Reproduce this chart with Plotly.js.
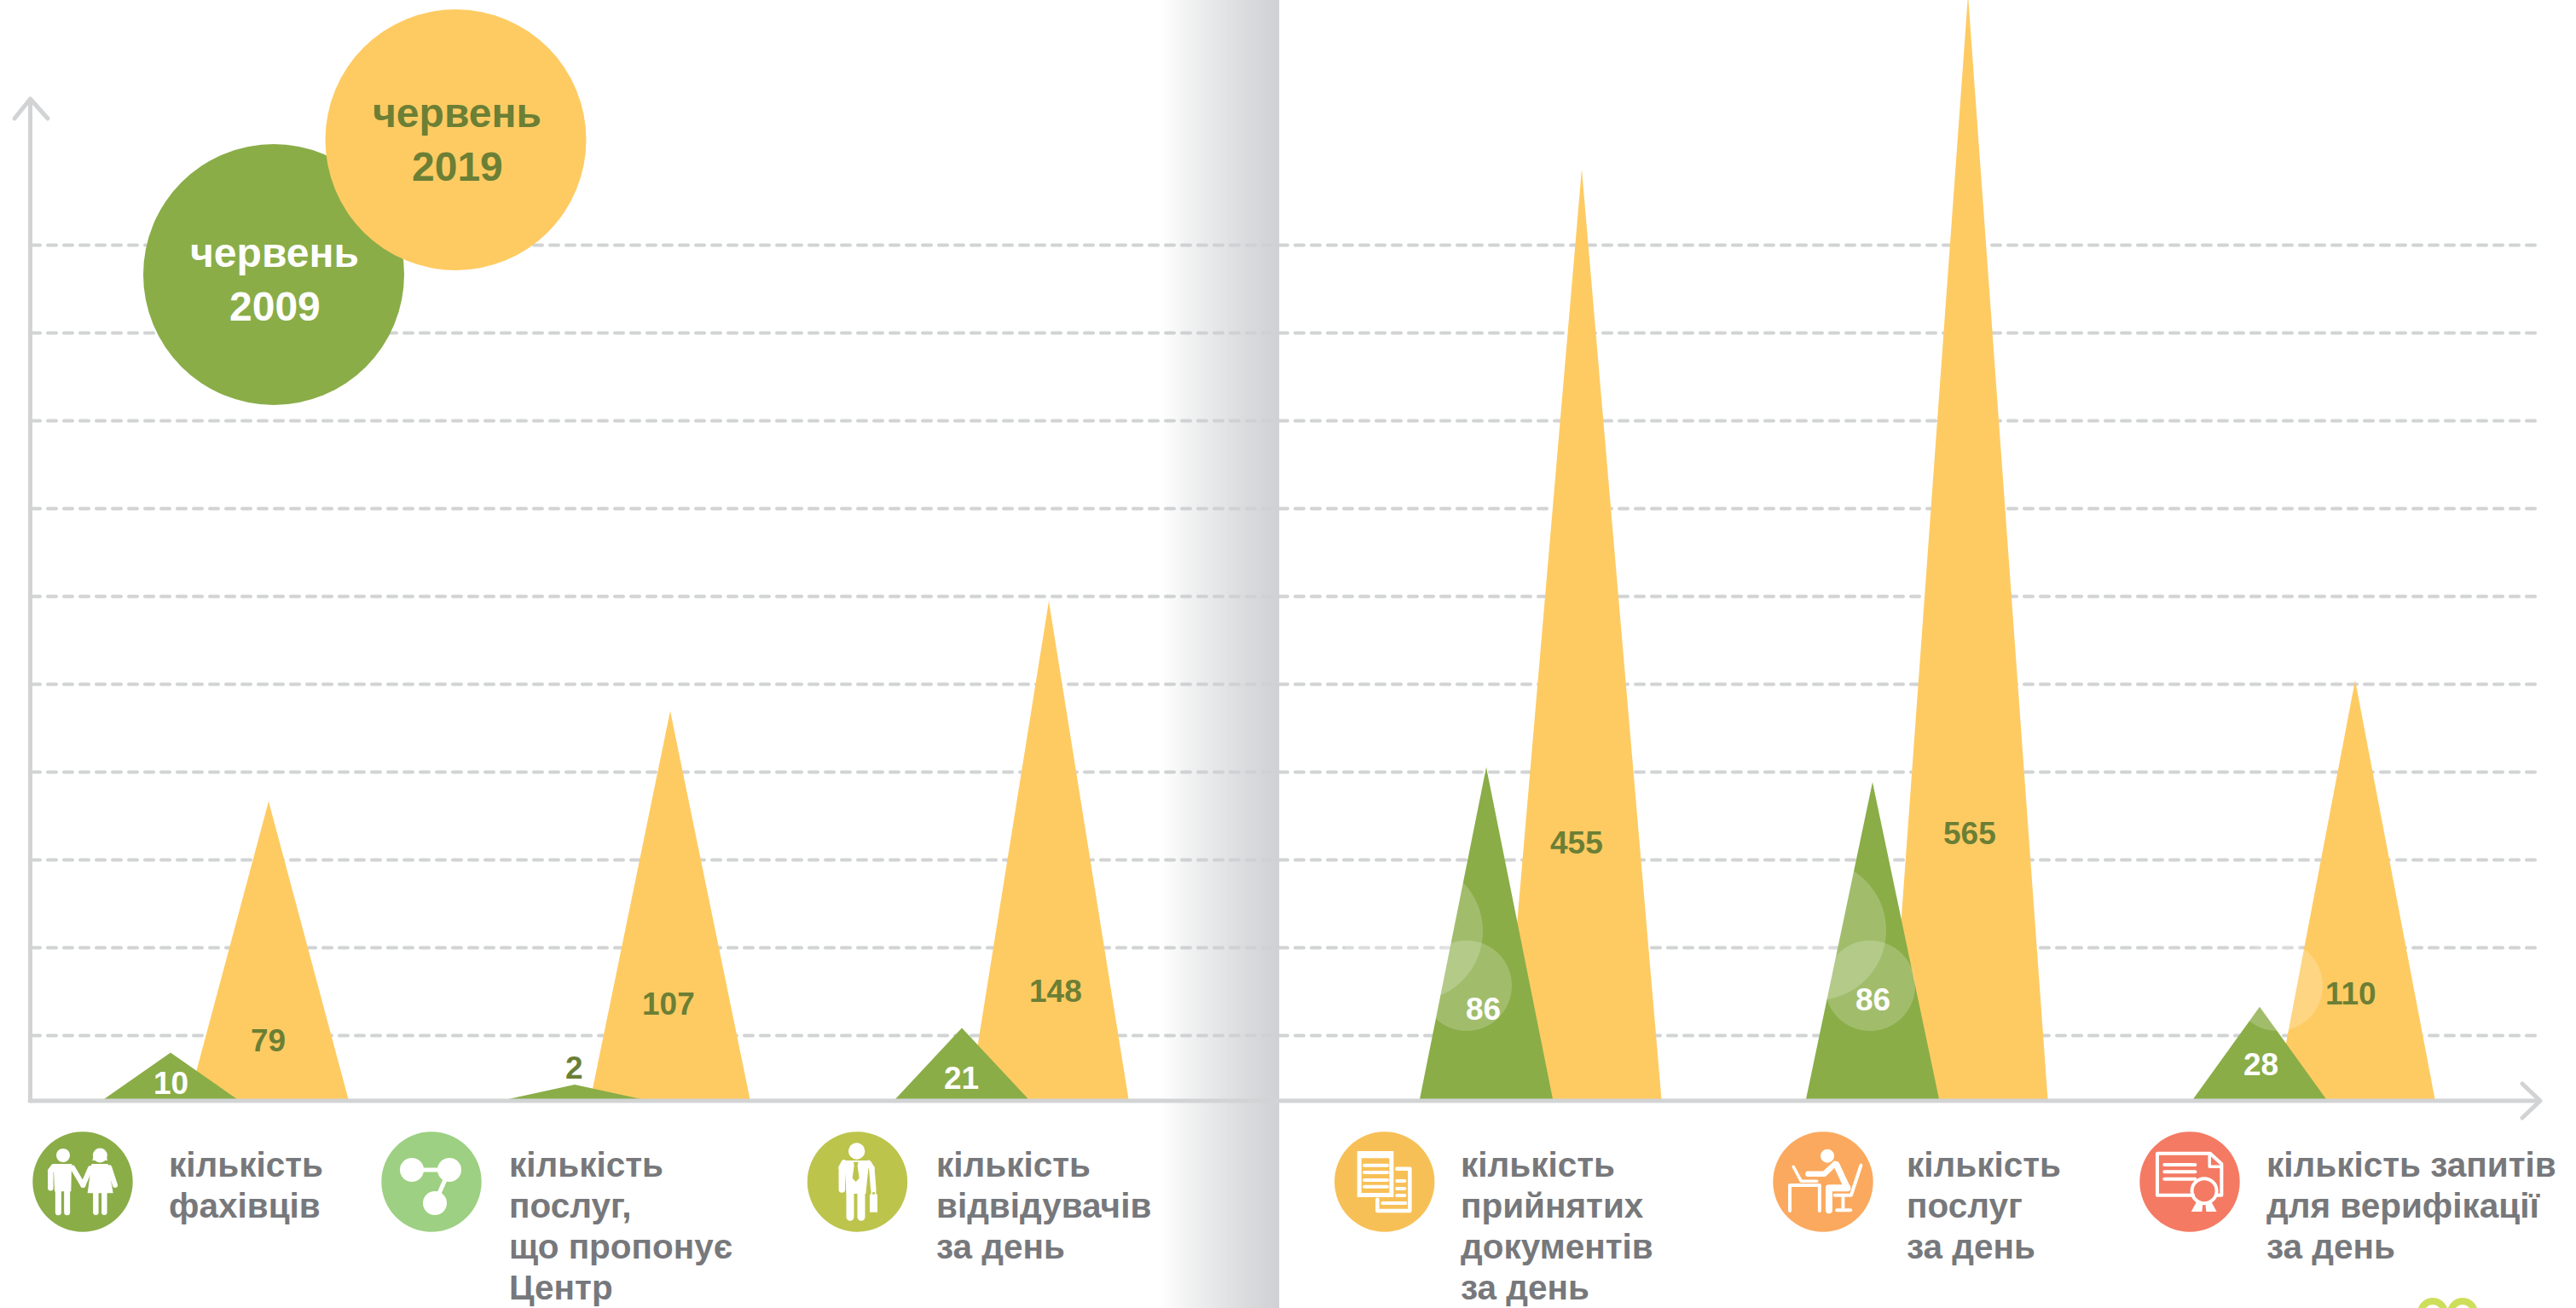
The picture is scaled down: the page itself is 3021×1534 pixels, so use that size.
<!DOCTYPE html>
<html>
<head>
<meta charset="utf-8">
<script src="https://cdn.plot.ly/plotly-3.0.1.min.js"></script>
<style>
html,body{margin:0;padding:0;background:#fff;overflow:hidden}
#chart{width:3021px;height:1534px}
.shapelayer path{stroke-linecap:round;stroke-linejoin:round}
.gridlayer path{stroke-linecap:round;shape-rendering:auto!important}
</style>
</head>
<body>
<div id="chart"></div>
<script>
// ---- data ----
const categories = [
  ["кількість","фахівців"],
  ["кількість","послуг,","що пропонує","Центр"],
  ["кількість","відвідувачів","за день"],
  ["кількість","прийнятих","документів","за день"],
  ["кількість","послуг","за день"],
  ["кількість запитів","для верифікації","за день"]
];
const seriesNames = ["червень 2009","червень 2019"];
const values2009 = [10, 2, 21, 86, 86, 28];
const values2019 = [79, 107, 148, 455, 565, 110];
// the pictured peaks do not follow the printed numbers linearly: heights in grid steps
const peaks2009 = [0.53, 0.165, 0.81, 3.78, 3.61, 1.05];
const peaks2019 = [3.39, 4.42, 5.67, 10.59, 12.57, 4.77];

// ---- geometry & style ----
const W = 3021, H = 1534, ML = 37, MR = 45, BASE = 1289, STEP = 103;
const PW = W - ML - MR;
const centers2009 = [200, 674, 1128, 1743, 2196, 2650];
const centers2019 = [315, 786, 1230, 1855, 2308, 2762];
const halfBase2009 = 78, halfBase2019 = 93.5;
const GREEN = '#8aad48', YELLOW = '#fecb63', DARK = '#6b7f35', GREY = '#77787b', LINE = '#d1d3d4';
const FONT = 'Liberation Sans, Arial, sans-serif';
const px = x => (x - ML) / PW;
const py = y => 1 - y / BASE;
const toY = y => (BASE - y) / STEP;

function tri(center, half, h, color, name) {
  return {type:'scatter', mode:'lines', x:[center-half, center, center+half], y:[0, h, 0],
    fill:'toself', fillcolor:color, line:{width:0, color:color}, hoverinfo:'skip', name:name, showlegend:false};
}
const traces = [];
values2019.forEach((v,i)=>traces.push(tri(centers2019[i], halfBase2019, peaks2019[i], YELLOW, seriesNames[1])));
values2009.forEach((v,i)=>traces.push(tri(centers2009[i], halfBase2009, peaks2009[i], GREEN, seriesNames[0])));

// ---- shape helpers (page pixels -> paper) ----
const shapes = [];
function poly(pts, o) {
  o = o || {};
  const d = pts.map((p,i)=>(i?'L':'M')+px(p[0]).toFixed(6)+','+py(p[1]).toFixed(6)).join('')+(o.fill?'Z':'');
  shapes.push({type:'path', xref:'paper', yref:'paper', layer:'above', path:d,
    fillcolor:o.fill||'rgba(0,0,0,0)', line:{width:o.w===undefined?0:o.w, color:o.color||'rgba(0,0,0,0)'}});
}
function disc(cx, cy, r, fill, o) {
  o = o || {};
  shapes.push({type:'circle', xref:'paper', yref:'paper', layer:'above',
    x0:px(cx-r), x1:px(cx+r), y0:py(cy+r), y1:py(cy-r), fillcolor:fill||'rgba(0,0,0,0)',
    opacity:o.opacity===undefined?1:o.opacity, line:{width:o.w||0, color:o.color||'rgba(0,0,0,0)'}});
}
function rect(x0,y0,x1,y1,fill){
  shapes.push({type:'rect', xref:'paper', yref:'paper', layer:'above',
    x0:px(x0), x1:px(x1), y0:py(y1), y1:py(y0), fillcolor:fill, line:{width:0}});
}

// page-fold shading
for (let x = 1360; x < 1500; x++) {
  const t = (x - 1360) / 140;
  rect(x, 0, x + 1.2, H, `rgba(207,208,211,${t.toFixed(3)})`);
}
// axes with arrows
poly([[35.5,117],[35.5,1291]],{w:5,color:LINE});
poly([[35,1291],[2978,1291]],{w:5,color:LINE});
poly([[17,139],[35.5,116],[56,139]],{w:5,color:LINE});
poly([[2958,1271],[2979,1291],[2958,1311]],{w:5,color:LINE});

// translucent discs
const WHITE_A = 'rgba(255,255,255,0.2)';
disc(1720,1156,53,WHITE_A); disc(1657,1092,82,WHITE_A);
disc(2193,1156,53,WHITE_A); disc(2130,1091,82,WHITE_A);
disc(2671,1156,53,WHITE_A);

// series key
disc(321,322,153,GREEN);
disc(534.5,164,153,YELLOW);

// icons
function local(ox,oy,sx,sy){ return p => [ox+p[0]/sx, oy+p[1]/sy]; }
// 1 people
(function(){
  const c='#8aad48', f=local(20,1310,3,3), W_='#fff';
  disc(97,1386,58.7,c);
  const st=(pts,w)=>poly(pts.map(f),{w:w,color:W_}), fl=pts=>poly(pts.map(f),{fill:W_});
  disc(...f([162,135]),8,W_);
  fl([[128,165],[192,165],[190,262],[132,262]]);
  st([[118,190],[118,250]],6.5); st([[128,175],[118,190]],6.5);
  st([[195,178],[232,240]],6); st([[145,260],[145,335]],7); st([[176,260],[176,335]],7);
  disc(...f([292,135]),8.5,W_); fl([[265,153],[318,153],[312,128],[272,128]]);
  fl([[262,165],[320,165],[338,268],[248,268]]);
  st([[258,180],[232,240]],6); st([[325,178],[345,240]],6);
  st([[277,268],[277,335]],6.5); st([[307,268],[307,335]],6.5);
})();
// 2 nodes
(function(){
  disc(506,1386,58.7,'#9dd082');
  disc(483,1372,14,'#fff'); disc(527,1372,14,'#fff'); disc(510,1411,14,'#fff');
  poly([[483,1372],[527,1372]],{w:5,color:'#fff'}); poly([[527,1372],[510,1411]],{w:5,color:'#fff'});
})();
// 3 businessman
(function(){
  const c='#bcc44c', f=local(930,1310,3,3), W_='#fff';
  disc(1005.5,1386,58.7,c);
  disc(...f([224,120]),9.7,W_);
  const st=(pts,w)=>poly(pts.map(f),{w:w,color:W_}), fl=(pts,col)=>poly(pts.map(f),{fill:col||W_});
  fl([[180,153],[268,153],[256,270],[188,270]]);
  st([[172,178],[172,255]],7.5); st([[277,180],[283,255]],6.5); st([[180,162],[172,178]],7.5); st([[266,162],[277,180]],6.5);
  st([[201,240],[201,352]],9); st([[240,240],[240,352]],9);
  fl([[213,158],[230,158],[227,172],[233,215],[221,228],[209,215],[215,172]],c);
  fl([[270,272],[297,272],[297,335],[270,335]]);
  poly([[277,272],[277,262],[290,262],[290,272]].map(f),{w:1.5,color:W_});
})();
// 4 documents
(function(){
  const c='#f7c057', f=local(1550,1310,3,3), W_='#fff';
  disc(1623.7,1386,58.7,c);
  const st=(pts,w)=>poly(pts.map(f),{w:w,color:W_}), fl=(pts,col)=>poly(pts.map(f),{fill:col||W_});
  st([[265,182],[310,182],[310,330],[196,330],[196,290]],4.5);
  [225,252,276].forEach(y=>st([[265,y],[292,y]],4));
  st([[214,303],[295,303]],4);
  fl([[125,120],[253,120],[253,282],[125,282]]);
  fl([[140,145],[238,145],[238,267],[140,267]],c);
  [170,195,222,245].forEach(y=>st([[150,y],[231,y]],4));
})();
// 5 workplace
(function(){
  const c='#fba95e', f=local(2060,1310,2.613,3), W_='#fff';
  disc(2138,1386,58.7,c);
  const st=(pts,w)=>poly(pts.map(f),{w:w,color:W_});
  disc(...f([217,137]),8,W_);
  st([[102,330],[102,240],[193,240],[193,330]],4);
  st([[113,175],[137,226],[185,226]],3.5);
  st([[158,200],[208,200],[240,165]],6.5);
  st([[245,168],[278,250]],7.5);
  st([[278,250],[222,250],[222,328]],8);
  st([[320,170],[290,275],[240,275]],4);
  st([[265,275],[265,328]],4); st([[246,328],[288,328]],4);
})();
// 6 certificate
(function(){
  const c='#f47a63', f=local(2060,1310,2.613,3), W_='#fff';
  disc(2568,1386,58.7,c);
  const st=(pts,w)=>poly(pts.map(f),{w:w,color:W_}), fl=pts=>poly(pts.map(f),{fill:W_});
  st([[1338,275],[1228,275],[1228,128],[1390,128],[1425,165],[1425,275],[1408,275]],4);
  st([[1388,130],[1388,175],[1425,175]],3.5);
  [168,193,218].forEach(y=>st([[1250,y],[1344,y]],4));
  disc(...f([1372,260]),14.5,'rgba(0,0,0,0)',{w:4,color:W_});
  fl([[1350,295],[1332,333],[1365,333],[1368,300]]);
  fl([[1392,295],[1410,333],[1378,333],[1375,300]]);
})();
// logo fragment at the bottom edge
disc(2853,1540,14,'rgba(0,0,0,0)',{w:8,color:'#cfde5a'});
disc(2888,1540,14,'rgba(0,0,0,0)',{w:8,color:'#cfde5a'});

// ---- text ----
const annotations = [];
function text(s,x,y,o){
  annotations.push({xref:'paper',yref:'paper',x:px(x),y:py(y),text:s,showarrow:false,
    xanchor:o.anchor||'center',yanchor:'middle',align:o.anchor||'center',
    font:{family:FONT,size:o.size,color:o.color,weight:700},borderpad:0,borderwidth:0});
}
// value labels
const labelPos2009 = [[200,1270],[673,1252],[1127,1264],[1739,1183],[2196,1172],[2651,1248]];
const labelPos2019 = [[314,1220],[784,1177],[1238,1162],[1849,988],[2310,977],[2757,1165]];
values2009.forEach((v,i)=>text(String(v),labelPos2009[i][0],labelPos2009[i][1],{size:37,color:i===1?DARK:'#fff'}));
values2019.forEach((v,i)=>text(String(v),labelPos2019[i][0],labelPos2019[i][1],{size:37,color:DARK}));
// key labels
text('червень',322,296,{size:48,color:'#fff'});
text('2009',322,359,{size:48,color:'#fff'});
text('червень',536,132,{size:48,color:DARK});
text('2019',536,196,{size:48,color:DARK});
// captions
const captionX = [198,597,1098,1713,2236,2658];
const captionBase = [1380,1428,1476,1524];
categories.forEach((lines,i)=>lines.forEach((s,j)=>text(s,captionX[i],captionBase[j]-14,{size:40.5,color:GREY,anchor:'left'})));

// ---- layout ----
const gridVals = [];
for (let y = 1214.5; y > 280; y -= STEP) gridVals.push(toY(y));
const layout = {
  width:W, height:H, autosize:false,
  margin:{l:ML,r:MR,t:0,b:H-BASE,pad:0},
  paper_bgcolor:'#fff', plot_bgcolor:'rgba(0,0,0,0)', showlegend:false, hovermode:false,
  xaxis:{range:[ML,W-MR],showgrid:false,zeroline:false,showline:false,showticklabels:false,ticks:''},
  yaxis:{range:[0,BASE/STEP],tickmode:'array',tickvals:gridVals,showticklabels:false,ticks:'',zeroline:false,showline:false,
    showgrid:true,gridcolor:LINE,gridwidth:4,griddash:'10px,9px'},
  shapes:shapes, annotations:annotations
};
Plotly.newPlot('chart',traces,layout,{displayModeBar:false,staticPlot:true});
</script>
</body>
</html>
